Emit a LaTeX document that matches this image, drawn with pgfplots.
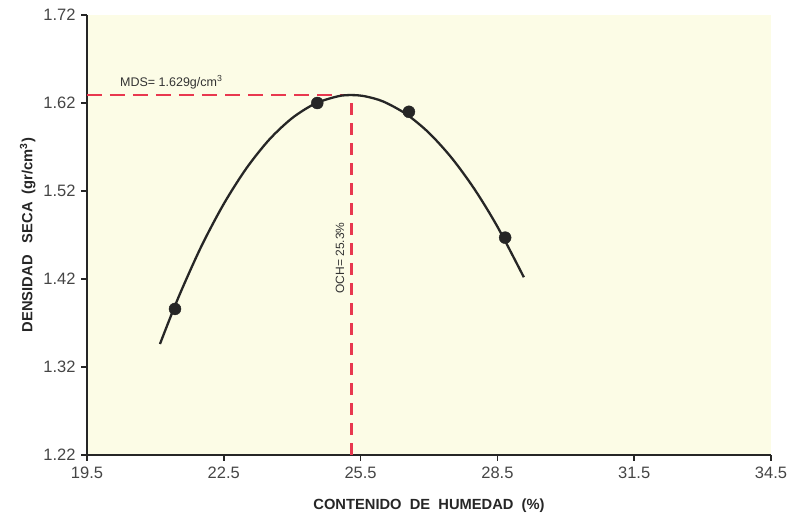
\documentclass[border=0pt]{standalone}
\usepackage{pgfplots}
\pgfplotsset{compat=1.18}
\usepackage{fontspec}
\setmainfont{Liberation Sans}
\definecolor{bgy}{HTML}{FCFCE6}
\definecolor{redd}{HTML}{E8384F}
\definecolor{tickg}{HTML}{454545}
\begin{document}
\begin{tikzpicture}
\begin{axis}[
  name=ax,
  scale only axis,
  width=684pt, height=440pt,
  xmin=19.5, xmax=34.5, ymin=1.22, ymax=1.72,
  xtick={19.5,22.5,25.5,28.5,31.5,34.5},
  ytick={1.22,1.32,1.42,1.52,1.62,1.72},
  axis lines=left,
  axis line style={-, line width=2.4pt, black!85},
  tick align=outside,
  major tick length=6pt,
  tick style={line width=1.6pt, black!85},
  axis background/.style={fill=bgy},
  /pgf/number format/assume math mode=true,
  xticklabel style={/pgf/number format/fixed, /pgf/number format/fixed zerofill, /pgf/number format/precision=1, font=\fontsize{16.5}{16.5}\selectfont, text=tickg, yshift=-2pt},
  yticklabel style={/pgf/number format/fixed, /pgf/number format/fixed zerofill, /pgf/number format/precision=2, font=\fontsize{16.5}{16.5}\selectfont, text=tickg, xshift=-2pt},
  xlabel={\textbf{CONTENIDO\ \ DE\ \ HUMEDAD\ \ (\%)}},
  ylabel={\textbf{DENSIDAD\ \ \ SECA\ \ (gr/cm\textsuperscript{3})}},
  label style={font=\fontsize{14.7}{14.7}\selectfont, text=black!85},
  xlabel style={yshift=-14pt},
  ylabel style={yshift=1pt},
  clip=false,
]
% red dashed guide lines
\addplot[color=redd, line width=2.6pt, dash pattern=on 15pt off 8pt] coordinates {(19.5,1.629) (25.3,1.629)};
\addplot[color=redd, line width=2.4pt, dash pattern=on 12pt off 8pt] coordinates {(25.3,1.22) (25.3,1.629)};
% fitted curve
\addplot[black!85, line width=2.3pt, smooth] coordinates {
(21.1,1.3461) (21.5,1.3985) (22.0,1.4563) (22.5,1.5054) (23.0,1.5461) (23.5,1.5786)
(24.0,1.6029) (24.5,1.6192) (25.0,1.6276) (25.3,1.6290) (25.6,1.6276) (26.0,1.6216)
(26.5,1.6074) (27.0,1.5860) (27.5,1.5574) (28.0,1.5219) (28.5,1.4795) (29.08,1.4220)
};
% data points
\addplot[only marks, mark=*, mark size=6pt, black!85] coordinates {
(21.43,1.386) (24.55,1.620) (26.56,1.610) (28.67,1.467)
};
\node[anchor=south west, font=\fontsize{12.5}{12.5}\selectfont, text=black!80] at (axis cs:20.15,1.632) {MDS= 1.629g/cm\textsuperscript{3}};
\node[rotate=90, font=\fontsize{12}{12}\selectfont, text=black!80] at (axis cs:25.05,1.444) {OCH= 25.3\%};
\end{axis}
\pgfresetboundingbox
\path (ax.south west) ++(-87pt,-66pt) coordinate (bl);
\path (ax.north east) ++(22pt,15pt) coordinate (tr);
\path (bl) rectangle (tr);
\end{tikzpicture}
\end{document}
